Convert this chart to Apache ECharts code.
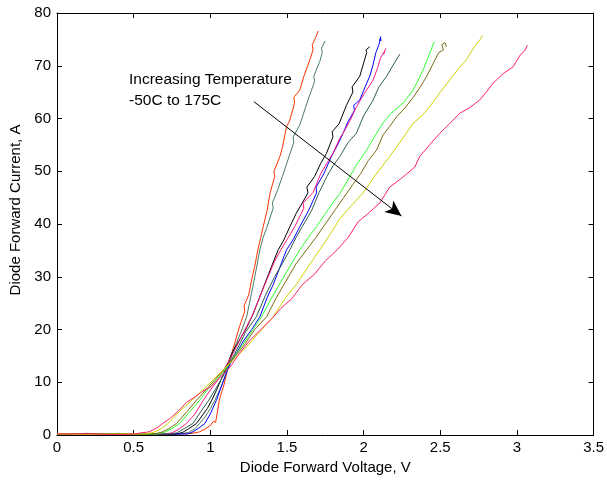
<!DOCTYPE html>
<html><head><meta charset="utf-8">
<script src="https://cdn.jsdelivr.net/npm/echarts@6/dist/echarts.min.js"></script>
<style>html,body{margin:0;padding:0;background:#fff}#c{width:607px;height:482px}</style>
</head><body><div id="c"></div>
<script>
const xTicks = [0, 0.5, 1, 1.5, 2, 2.5, 3, 3.5];
const yTicks = [0, 10, 20, 30, 40, 50, 60, 70, 80];
const temps = ['-50C','-25C','0C','25C','50C','75C','100C','125C','150C','175C'];

const curveM50 = [[0,0.3],[0.15,0.2],[0.3,0.3],[0.45,0.1],[0.6,0.2],[0.75,0.1],[0.88,0.3],[0.93,0.6],[0.97,1.2],[1.0,1.8],[1.02,2.6],[1.035,2.4],[1.045,4.2],[1.06,6.8],[1.075,8.2],[1.09,9.6],[1.11,12.0],[1.13,14.5],[1.16,17.5],[1.19,20.5],[1.225,23.5],[1.22,24.5],[1.25,26.5],[1.27,29.5],[1.29,32],[1.31,35.1],[1.33,37.5],[1.345,39.5],[1.37,42.5],[1.39,45.9],[1.42,49],[1.415,50],[1.454,52.8],[1.47,54.5],[1.497,58.4],[1.519,59.7],[1.55,63],[1.545,64],[1.584,65.4],[1.61,68],[1.649,71.1],[1.67,73],[1.665,74],[1.69,75.5],[1.703,76.6]];
const curveM25 = [[0,0.2],[0.2,0.3],[0.4,0.1],[0.6,0.2],[0.8,0.2],[0.86,0.5],[0.9,1.2],[0.93,2.2],[0.96,3.2],[1.0,5],[1.03,6.6],[1.06,8.5],[1.09,10.5],[1.12,13],[1.15,16],[1.2,19.5],[1.237,22.4],[1.27,27],[1.3,31.5],[1.323,35.1],[1.345,37.5],[1.367,39.2],[1.41,43],[1.405,44],[1.44,46.5],[1.47,49],[1.508,52.3],[1.545,55.5],[1.54,56.5],[1.584,58.8],[1.62,62],[1.649,64.5],[1.68,67],[1.675,68],[1.714,70.8],[1.73,72.5],[1.725,73.3],[1.749,74.7]];
const curve0 = [[0,0.2],[0.2,0.1],[0.4,0.3],[0.6,0.1],[0.78,0.2],[0.82,0.5],[0.86,1.2],[0.91,2.2],[0.95,3.8],[0.98,5],[1.01,6.6],[1.04,8.5],[1.07,10.5],[1.1,12.5],[1.14,15.5],[1.2,18.5],[1.24,20.5],[1.28,23],[1.32,26],[1.36,29],[1.4,32],[1.443,35.1],[1.48,37],[1.519,39.5],[1.56,42],[1.6,44],[1.637,45.9],[1.63,47],[1.68,49],[1.72,51.5],[1.758,53.4],[1.8,56.5],[1.795,57.5],[1.84,59],[1.888,62.5],[1.93,65],[1.925,66],[1.975,68],[2.0,70.5],[2.02,72.5],[2.015,73],[2.04,73.6]];
const curve25 = [[0,0.1],[0.2,0.2],[0.4,0.1],[0.6,0.2],[0.85,0.2],[0.88,0.5],[0.92,1.2],[0.965,2.2],[1.0,4],[1.04,6.6],[1.07,9],[1.1,11.5],[1.13,13.5],[1.17,15.5],[1.22,18],[1.27,20],[1.323,22.4],[1.37,26],[1.41,28.5],[1.45,31.5],[1.497,35.1],[1.54,37],[1.584,39.5],[1.64,42.5],[1.693,45.9],[1.69,47],[1.74,49.5],[1.79,52.8],[1.83,55],[1.866,57.2],[1.9,59.5],[1.94,61.5],[1.935,62.5],[1.975,63.5],[2.01,66],[2.04,68],[2.06,70],[2.08,72.5],[2.1,74],[2.112,75.5],[2.105,74.8],[2.12,74.9]];
const curve50 = [[0,0.2],[0.2,0.3],[0.4,0.1],[0.6,0.2],[0.7,0.2],[0.75,0.4],[0.8,1.2],[0.845,2.2],[0.9,4],[0.955,6.6],[1.0,8.5],[1.05,10.5],[1.1,13],[1.15,15.5],[1.2,18.5],[1.27,22.4],[1.32,26],[1.37,29.5],[1.42,33],[1.46,35.1],[1.51,37.5],[1.551,39.5],[1.61,43],[1.605,44],[1.671,46],[1.72,49.5],[1.77,52],[1.80,53.4],[1.84,56],[1.866,57.2],[1.91,59.5],[1.953,62.2],[2.0,64.5],[2.062,67.3],[2.09,69.5],[2.11,71.5],[2.138,72.8],[2.13,72.2],[2.145,73.3]];
const curve75 = [[0,0.1],[0.2,0.2],[0.4,0.2],[0.6,0.1],[0.74,0.2],[0.78,0.4],[0.83,1.2],[0.887,2.2],[0.94,4.5],[0.99,6.6],[1.04,9],[1.08,11],[1.12,13.2],[1.17,16],[1.23,19.5],[1.30,22.4],[1.36,26.5],[1.42,30],[1.47,32.5],[1.519,35.1],[1.56,37.5],[1.6,39.5],[1.66,42.5],[1.71,46],[1.76,49],[1.8,51],[1.845,52.8],[1.9,55.5],[1.953,57.2],[2.0,60.5],[2.062,63.5],[2.1,66],[2.15,68],[2.19,70],[2.236,72.2]];
const curve100 = [[0,0.2],[0.2,0.1],[0.4,0.2],[0.6,0.2],[0.65,0.2],[0.7,0.5],[0.75,1.2],[0.80,2.2],[0.86,4.2],[0.93,6.6],[0.98,8.5],[1.04,10.5],[1.1,12.5],[1.16,15],[1.22,17.5],[1.29,20.5],[1.334,22.4],[1.4,26],[1.46,29],[1.52,32],[1.584,35.1],[1.64,37.5],[1.693,39.5],[1.75,42],[1.8,44],[1.85,46],[1.91,49],[1.96,51.5],[2.02,54],[2.08,57],[2.127,59.2],[2.18,61],[2.26,63],[2.323,65.4],[2.36,67.5],[2.388,69.2],[2.42,71.5],[2.44,73],[2.46,74.6]];
const curve125 = [[0,0.2],[0.2,0.2],[0.4,0.1],[0.6,0.2],[0.63,0.2],[0.68,0.5],[0.73,1.2],[0.78,2.2],[0.85,4.5],[0.91,6.6],[0.97,8.5],[1.03,10.5],[1.09,12.5],[1.15,14.5],[1.22,17],[1.29,20],[1.367,22.4],[1.43,26],[1.49,29],[1.56,32.5],[1.628,35.1],[1.69,37.5],[1.75,40],[1.81,42.5],[1.87,45],[1.93,47.5],[1.98,49.5],[2.03,52],[2.084,54],[2.127,56.9],[2.17,58.5],[2.214,60.3],[2.27,62],[2.323,64],[2.37,66],[2.41,67.9],[2.453,70.4],[2.49,72.5],[2.52,73],[2.51,74],[2.53,74.4],[2.54,73.6]];
const curve150 = [[0,0.2],[0.2,0.1],[0.4,0.2],[0.58,0.2],[0.63,0.5],[0.68,1.2],[0.725,2.2],[0.8,4.5],[0.88,6.6],[0.95,8.5],[1.02,10.5],[1.09,12.5],[1.16,14.5],[1.23,16.5],[1.32,19.5],[1.41,22.4],[1.49,26],[1.56,28.5],[1.64,32],[1.714,35.1],[1.78,38],[1.845,41],[1.92,43.5],[1.997,45.9],[2.07,49],[2.17,52.8],[2.25,56],[2.323,59.1],[2.38,60.5],[2.43,62.2],[2.5,65],[2.562,67.3],[2.62,69.5],[2.67,71.1],[2.72,73.5],[2.76,75],[2.775,75.7]];
const curve175 = [[0,0.2],[0.2,0.2],[0.4,0.1],[0.5,0.2],[0.55,0.4],[0.6,0.6],[0.65,1.3],[0.69,2.2],[0.74,3.2],[0.79,4.5],[0.845,6.2],[0.9,7.2],[0.95,8.3],[1.0,9.1],[1.06,10.8],[1.13,12.9],[1.19,15.5],[1.26,18],[1.33,20],[1.4,22],[1.46,24],[1.53,25.8],[1.6,28.5],[1.68,30.5],[1.75,33],[1.83,35.2],[1.9,37.5],[1.964,40.4],[2.03,42],[2.106,44],[2.17,47],[2.24,48.5],[2.334,50.8],[2.366,52.8],[2.43,55],[2.497,57.2],[2.56,59],[2.627,61],[2.69,62],[2.757,63.5],[2.8,65],[2.845,66.7],[2.91,68.5],[2.975,69.8],[3.02,72],[3.05,72.8],[3.068,73.9]];
const curves = [curveM50, curveM25, curve0, curve25, curve50, curve75, curve100, curve125, curve150, curve175];

const annotationText = ['Increasing Temperature', '-50C to 175C'];
const arrowFrom = [1.284, 63.2];
const arrowTo = [2.247, 41.5];

const colors = ['#ff3300','#4a7d6a','#000000','#0000ff','#ff1a80','#2e5e4e','#33ff33','#7a6a10','#d0d000','#ff2266'];

const font = 'Arial, "Liberation Sans", Helvetica, sans-serif';
const chart = echarts.init(document.getElementById('c'), null, {renderer: 'canvas'});

const series = curves.map((d, i) => ({
  name: temps[i], type: 'line', data: d, showSymbol: false, symbol: 'none',
  lineStyle: {color: colors[i], width: 1}, itemStyle: {color: colors[i]},
  silent: true, animation: false, z: 2
}));
series.push({
  type: 'line', data: [], silent: true, animation: false,
  markLine: {
    silent: true, animation: false,
    symbol: ['none', 'arrow'], symbolSize: [11, 16],
    lineStyle: {color: '#000', width: 1, type: 'solid'},
    label: {show: false},
    data: [[{coord: arrowFrom}, {coord: arrowTo}]]
  }
});

const axisCommon = {
  axisLine: {show: true, onZero: false, lineStyle: {color: '#000', width: 1}},
  axisTick: {show: true, inside: true, length: 5, lineStyle: {color: '#000'}},
  splitLine: {show: false}
};

chart.setOption({
  animation: false,
  backgroundColor: '#fff',
  grid: {left: 57, right: 13, top: 13, bottom: 47, containLabel: false},
  xAxis: [
    Object.assign({type: 'value', min: xTicks[0], max: xTicks[xTicks.length-1], interval: 0.5, position: 'bottom',
      name: 'Diode Forward Voltage, V', nameLocation: 'middle', nameGap: 25,
      nameTextStyle: {fontFamily: font, fontSize: 15, color: '#000'},
      axisLabel: {fontFamily: font, fontSize: 15, color: '#000', margin: 5}}, axisCommon),
    Object.assign({type: 'value', min: xTicks[0], max: xTicks[xTicks.length-1], interval: 0.5, position: 'top',
      axisLabel: {show: false}}, axisCommon)
  ],
  yAxis: [
    Object.assign({type: 'value', min: yTicks[0], max: yTicks[yTicks.length-1], interval: 10, position: 'left',
      name: 'Diode Forward Current, A', nameLocation: 'middle', nameGap: 32,
      nameTextStyle: {fontFamily: font, fontSize: 15, color: '#000', padding: [0, 0, 0, 28]},
      axisLabel: {fontFamily: font, fontSize: 15, color: '#000', margin: 6}}, axisCommon),
    Object.assign({type: 'value', min: yTicks[0], max: yTicks[yTicks.length-1], interval: 10, position: 'right',
      axisLabel: {show: false}}, axisCommon)
  ],
  graphic: [{
    type: 'text', left: 129, top: 69, z: 10, silent: true,
    style: {text: annotationText.join('\n'), font: '15.5px ' + font, fill: '#000', lineHeight: 21}
  }],
  series: series
});
</script></body></html>
